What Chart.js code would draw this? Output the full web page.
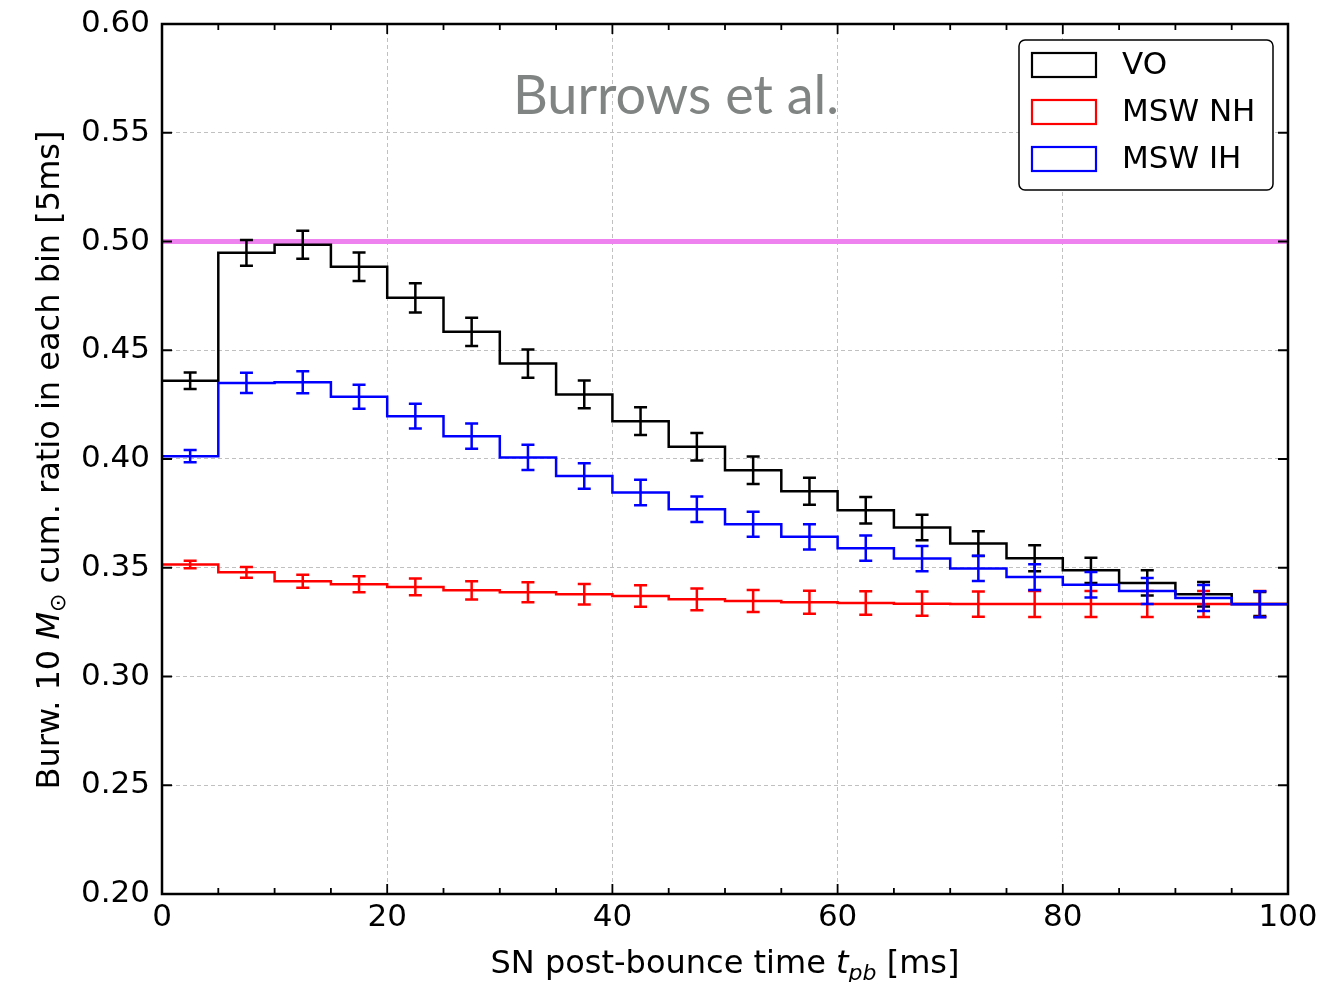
<!DOCTYPE html>
<html>
<head>
<meta charset="utf-8">
<script src="https://cdn.jsdelivr.net/npm/chart.js@4.4.0/dist/chart.umd.min.js"></script>
<style>
  html, body { margin: 0; padding: 0; background: #fff; }
  #wrap { position: relative; width: 1323px; height: 982px; }
</style>
</head>
<body>
<div id="wrap"><canvas id="histChart" width="1323" height="982"></canvas></div>
<script>
// bin edges in ms (5 ms bins)
var binEdges = [0, 5, 10, 15, 20, 25, 30, 35, 40, 45, 50, 55, 60, 65, 70, 75, 80, 85, 90, 95, 100];
var xTickLabels = [0, 20, 40, 60, 80, 100];
var yTickLabels = [0.20, 0.25, 0.30, 0.35, 0.40, 0.45, 0.50, 0.55, 0.60];
var seriesNames = ['VO', 'MSW NH', 'MSW IH'];

var voValues = [0.436, 0.4948, 0.4985, 0.4884, 0.4741, 0.4585, 0.4439, 0.4297, 0.4174, 0.4056,
                0.3948, 0.3852, 0.3764, 0.3685, 0.3611, 0.3544, 0.3488, 0.343, 0.3378, 0.3333];
var voErrors = [0.0038, 0.0059, 0.0064, 0.0066, 0.0067, 0.0065, 0.0065, 0.0064, 0.0064, 0.0063,
                0.0063, 0.0062, 0.0061, 0.0059, 0.0057, 0.006, 0.0058, 0.0058, 0.0056, 0.0055];

var nhValues = [0.3515, 0.3479, 0.3438, 0.3424, 0.3412, 0.3396, 0.3387, 0.3378, 0.337, 0.3355,
                0.3347, 0.3341, 0.3338, 0.3335, 0.3333, 0.3333, 0.3333, 0.3333, 0.3333, 0.3333];
var nhErrors = [0.0017, 0.0025, 0.003, 0.0037, 0.0039, 0.0042, 0.0046, 0.0047, 0.0049, 0.005,
                0.0051, 0.0053, 0.0054, 0.0056, 0.0058, 0.006, 0.006, 0.006, 0.006, 0.006];

var ihValues = [0.4013, 0.435, 0.4353, 0.4286, 0.4197, 0.4105, 0.4007, 0.3922, 0.3846, 0.3769,
                0.37, 0.3642, 0.359, 0.3542, 0.3497, 0.3457, 0.3422, 0.3393, 0.3361, 0.3332];
var ihErrors = [0.0028, 0.0046, 0.0051, 0.0055, 0.0057, 0.0058, 0.0058, 0.0059, 0.0059, 0.0059,
                0.0058, 0.0058, 0.0058, 0.0058, 0.0058, 0.0059, 0.0059, 0.006, 0.006, 0.006];

var halfRatio = 0.5;

var FONT = "'DejaVu Sans', sans-serif";

// step points: one per bin left edge, plus closing point at last edge
function stepPoints(values) {
    var pts = [];
    for (var i = 0; i < values.length; i++) {
        pts.push({ x: binEdges[i], y: values[i] });
    }
    pts.push({ x: binEdges[binEdges.length - 1], y: values[values.length - 1] });
    return pts;
}

function errPoints(values, errors) {
    var pts = [];
    for (var i = 0; i < values.length; i++) {
        pts.push({ x: (binEdges[i] + binEdges[i + 1]) / 2, y: values[i], e: errors[i] });
    }
    return pts;
}

var errorSets = {
    0: errPoints(voValues, voErrors),
    1: errPoints(nhValues, nhErrors),
    2: errPoints(ihValues, ihErrors)
};

// error bars drawn right after each histogram
var errorBarPlugin = {
    id: 'errorBars',
    afterDatasetDraw: function(chart, args) {
        var pts = errorSets[args.index];
        if (!pts) return;
        var ctx = chart.ctx;
        var xs = chart.scales.x, ys = chart.scales.y;
        var color = chart.data.datasets[args.index].borderColor;
        ctx.save();
        ctx.strokeStyle = color;
        ctx.lineWidth = 2.5;
        pts.forEach(function(p) {
            var px = xs.getPixelForValue(p.x);
            var top = ys.getPixelForValue(p.y + p.e);
            var bot = ys.getPixelForValue(p.y - p.e);
            ctx.beginPath();
            ctx.moveTo(px, top); ctx.lineTo(px, bot);
            ctx.moveTo(px - 6.5, top); ctx.lineTo(px + 6.5, top);
            ctx.moveTo(px - 6.5, bot); ctx.lineTo(px + 6.5, bot);
            ctx.stroke();
        });
        ctx.restore();
    }
};

// frame, inward ticks, axis titles, legend, annotation
var framePlugin = {
    id: 'frame',
    afterDraw: function(chart) {
        var ctx = chart.ctx;
        var a = chart.chartArea;
        var xs = chart.scales.x, ys = chart.scales.y;
        ctx.save();
        ctx.strokeStyle = '#000';
        ctx.lineWidth = 2.5;
        ctx.strokeRect(a.left, a.top, a.right - a.left, a.bottom - a.top);

        ctx.lineWidth = 1.8;
        ctx.beginPath();
        for (var v = 0; v <= 100; v += 5) {
            var px = xs.getPixelForValue(v);
            var len = (v % 20 === 0) ? 10 : 6;
            ctx.moveTo(px, a.bottom); ctx.lineTo(px, a.bottom - len);
            ctx.moveTo(px, a.top); ctx.lineTo(px, a.top + len);
        }
        yTickLabels.forEach(function(t) {
            var py = ys.getPixelForValue(t);
            ctx.moveTo(a.left, py); ctx.lineTo(a.left + 10, py);
            ctx.moveTo(a.right, py); ctx.lineTo(a.right - 10, py);
        });
        ctx.stroke();

        // x axis title
        ctx.fillStyle = '#000';
        ctx.textBaseline = 'alphabetic';
        var parts = [
            { t: 'SN post-bounce time ', f: '32px ' + FONT, dy: 0 },
            { t: 't', f: 'italic 32px ' + FONT, dy: 0 },
            { t: 'pb', f: 'italic 22px ' + FONT, dy: 7 },
            { t: ' [ms]', f: '32px ' + FONT, dy: 0 }
        ];
        drawParts(ctx, parts, (a.left + a.right) / 2, 973);

        // y axis title (rotated)
        ctx.save();
        ctx.translate(59, 460);
        ctx.rotate(-Math.PI / 2);
        var yparts = [
            { t: 'Burw. 10 ', f: '32px ' + FONT, dy: 0 },
            { t: 'M', f: 'italic 32px ' + FONT, dy: 0 },
            { t: '\u2299', f: '22px ' + FONT, dy: 6 },
            { t: ' cum. ratio in each bin [5ms]', f: '32px ' + FONT, dy: 0 }
        ];
        drawParts(ctx, yparts, 0, 0);
        ctx.restore();

        // annotation text
        ctx.font = '54px Lato, sans-serif';
        ctx.fillStyle = '#808483';
        ctx.textAlign = 'center';
        ctx.fillText('Burrows et al.', 676, 114);

        // legend
        var lx = 1019, ly = 40, lw = 254, lh = 150;
        ctx.lineWidth = 1.5;
        ctx.strokeStyle = '#000';
        ctx.fillStyle = '#fff';
        ctx.beginPath();
        ctx.roundRect(lx, ly, lw, lh, 6);
        ctx.fill();
        ctx.stroke();
        ctx.textAlign = 'left';
        ctx.textBaseline = 'middle';
        ctx.font = '31px ' + FONT;
        var cols = ['#000000', '#ff0000', '#0000ff'];
        for (var i = 0; i < seriesNames.length; i++) {
            var ry = 53 + i * 47;
            ctx.strokeStyle = cols[i];
            ctx.lineWidth = 2.2;
            ctx.strokeRect(1032, ry, 64, 24);
            ctx.fillStyle = '#000';
            ctx.fillText(seriesNames[i], 1122, ry + 13);
        }
        ctx.restore();
    }
};

function drawParts(ctx, parts, cx, baseY) {
    var total = 0;
    parts.forEach(function(p) { ctx.font = p.f; p.w = ctx.measureText(p.t).width; total += p.w; });
    var x = cx - total / 2;
    ctx.textAlign = 'left';
    parts.forEach(function(p) {
        ctx.font = p.f;
        ctx.fillText(p.t, x, baseY + p.dy);
        x += p.w;
    });
}

var histChart = new Chart(document.getElementById('histChart'), {
    type: 'line',
    data: {
        datasets: [
            { label: seriesNames[0], data: stepPoints(voValues), borderColor: '#000000', order: 3 },
            { label: seriesNames[1], data: stepPoints(nhValues), borderColor: '#ff0000', order: 2 },
            { label: seriesNames[2], data: stepPoints(ihValues), borderColor: '#0000ff', order: 1 },
            { label: 'half', data: [{ x: binEdges[0], y: halfRatio }, { x: binEdges[binEdges.length - 1], y: halfRatio }],
              borderColor: '#ee82ee', borderWidth: 5, stepped: false, order: 4 }
        ]
    },
    options: {
        responsive: false,
        animation: false,
        events: [],
        layout: { padding: { top: 24, right: 35, left: 0, bottom: 0 } },
        elements: {
            line: { borderWidth: 2.5, stepped: 'before', fill: false },
            point: { radius: 0 }
        },
        plugins: {
            legend: { display: false },
            tooltip: { enabled: false }
        },
        scales: {
            x: {
                type: 'linear',
                min: 0, max: 100,
                afterFit: function(s) { s.height = 88; s.paddingLeft = 0; s.paddingRight = 0; },
                afterBuildTicks: function(s) { s.ticks = xTickLabels.map(function(v) { return { value: v }; }); },
                ticks: { font: { family: FONT, size: 31 }, color: '#000', padding: 5, maxRotation: 0 },
                grid: { color: '#c0c0c0', lineWidth: 1, drawTicks: false },
                border: { display: false, dash: [4, 3] }
            },
            y: {
                min: 0.2, max: 0.6,
                afterFit: function(s) { s.width = 162; s.paddingTop = 0; s.paddingBottom = 0; },
                afterBuildTicks: function(s) { s.ticks = yTickLabels.map(function(v) { return { value: v }; }); },
                ticks: {
                    font: { family: FONT, size: 31 }, color: '#000', padding: 12,
                    callback: function(v) { return v.toFixed(2); }
                },
                grid: { color: '#c0c0c0', lineWidth: 1, drawTicks: false },
                border: { display: false, dash: [4, 3] }
            }
        }
    },
    plugins: [errorBarPlugin, framePlugin]
});
</script>
</body>
</html>
